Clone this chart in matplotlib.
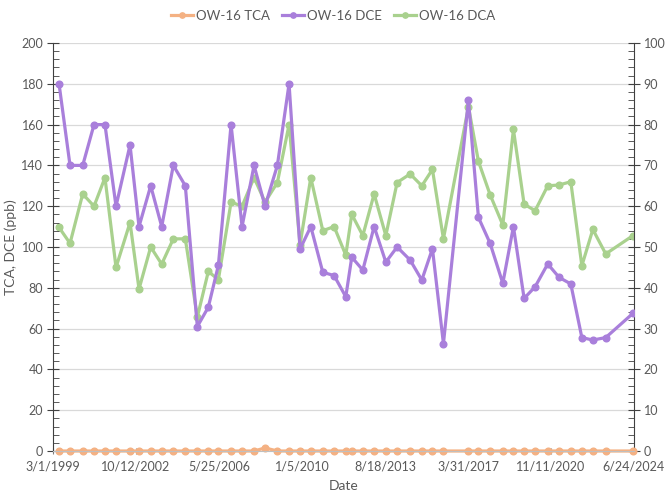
import matplotlib.pyplot as plt
import matplotlib.dates as mdates
from matplotlib.ticker import MultipleLocator, FuncFormatter
import numpy as np
import pandas as pd

plt.rcParams['font.family'] = ['Lato', 'DejaVu Sans']

# sample dates
dates = pd.to_datetime([
    '1999-06-05', '1999-11-27', '2000-06-16', '2000-12-13', '2001-06-05',
    '2001-11-28', '2002-07-09', '2002-11-29', '2003-06-03', '2003-11-25',
    '2004-05-28', '2004-12-05', '2005-06-14', '2005-12-06', '2006-05-15',
    '2006-12-03', '2007-05-27', '2007-12-04', '2008-05-27', '2008-12-09',
    '2009-06-13', '2009-12-05', '2010-05-25', '2010-12-02', '2011-05-31',
    '2011-12-03', '2012-03-07', '2012-08-30', '2013-02-26', '2013-08-31',
    '2014-02-27', '2014-09-22', '2015-03-27', '2015-09-12', '2016-03-05',
    '2017-04-07', '2017-09-13', '2018-03-18', '2018-10-06', '2019-03-24',
    '2019-09-10', '2020-03-03', '2020-09-20', '2021-03-20', '2021-09-22',
    '2022-03-17', '2022-09-08', '2023-04-01', '2024-06-08',
])

tca = [0] * 18 + [1.5] + [0] * 30

dce = [180, 140, 140, 160, 160, 120, 150, 110, 130, 110, 140, 130,
       61, 70.5, 91, 160, 110, 140, 120, 140, 180,
       99, 110, 87.6, 86, 75.6, 95, 88.7, 110, 92.6, 100, 93.6, 83.8, 99.2, 52.6,
       172, 114.5, 101.8, 82.2, 110, 74.8, 80.5, 91.7, 85.1, 81.9, 55.6, 54.4, 55.6, 67.5]

dca = [54.8, 50.9, 63, 60, 67, 45, 56, 39.7, 50, 45.8, 52, 52, 32.8, 44, 42,
       61, 60, 67, 61, 65.8, 80,
       50.6, 67, 54, 55, 48, 58, 52.8, 63, 52.8, 65.8, 67.9, 65, 69, 52,
       84.4, 71, 62.8, 55.4, 78.8, 60.5, 58.9, 65, 65.2, 66, 45.4, 54.3, 48.3, 52.8]

c_tca = '#F4B183'
c_dce = '#A97FDB'
c_dca = '#A9D18E'
txt = '#595959'

fig = plt.figure(figsize=(6.66, 4.91), dpi=100)
ax = fig.add_axes([53 / 666, 1 - 451 / 491, 581 / 666, 408 / 491])
ax2 = ax.twinx()

# secondary axis goes behind so DCE is drawn on top of DCA
ax2.set_zorder(1)
ax.set_zorder(2)
ax.patch.set_visible(False)
ax2.set_facecolor('#F0F0F0')

lw = 2.3
ms = 4.8
h_dca, = ax2.plot(dates, dca, color=c_dca, lw=lw, marker='o', ms=ms, label='OW-16 DCA')
h_tca, = ax.plot(dates, tca, color=c_tca, lw=lw, marker='o', ms=ms, label='OW-16 TCA', clip_on=False)
h_dce, = ax.plot(dates, dce, color=c_dce, lw=lw, marker='o', ms=ms, label='OW-16 DCE')

ax.set_ylim(0, 200)
ax2.set_ylim(0, 100)
ax.yaxis.set_major_locator(MultipleLocator(20))
ax.yaxis.set_minor_locator(MultipleLocator(4))
ax2.yaxis.set_major_locator(MultipleLocator(10))
ax2.yaxis.set_minor_locator(MultipleLocator(2))
ax2.grid(axis='y', which='major', color='#D9D9D9', lw=0.9)
ax2.set_axisbelow(True)

start = mdates.date2num(pd.Timestamp('1999-03-01'))
end = mdates.date2num(pd.Timestamp('2024-06-24'))
ax.set_xlim(start, end)
ax.set_xticks(np.arange(start, end + 1, 1321))
ax.xaxis.set_major_formatter(FuncFormatter(
    lambda v, p: f"{mdates.num2date(v).month}/{mdates.num2date(v).day}/{mdates.num2date(v).year}"))

for a in (ax, ax2):
    for s in a.spines.values():
        s.set_visible(False)
ax.spines['left'].set_visible(True)
ax.spines['left'].set_color('#404040')
ax2.spines['right'].set_visible(True)
ax2.spines['right'].set_color('#404040')
ax.spines['bottom'].set_visible(True)
ax.spines['bottom'].set_color('#BFBFBF')

ax.tick_params(axis='y', which='major', direction='inout', length=8, color='#404040',
               labelsize=9, labelcolor=txt, pad=3)
ax.tick_params(axis='y', which='minor', direction='in', length=4, color='#404040')
ax2.tick_params(axis='y', which='major', direction='inout', length=8, color='#404040',
                labelsize=9, labelcolor=txt, pad=3)
ax2.tick_params(axis='y', which='minor', direction='in', length=4, color='#404040')
ax.tick_params(axis='x', direction='inout', length=5, color='#808080',
               labelsize=9, labelcolor=txt, pad=4)

ax.set_xlabel('Date', fontsize=10, color=txt, labelpad=6)
ax.set_ylabel('TCA, DCE (ppb)', fontsize=10, color=txt, labelpad=3)

fig.legend(handles=[h_tca, h_dce, h_dca], loc='center', bbox_to_anchor=(0.5, 1 - 16 / 491),
           ncol=3, frameon=False, fontsize=9.5, labelcolor=txt, handlelength=1.7,
           columnspacing=0.9, handletextpad=0.2, markerscale=0.8)

fig.savefig('out.png', dpi=100)
